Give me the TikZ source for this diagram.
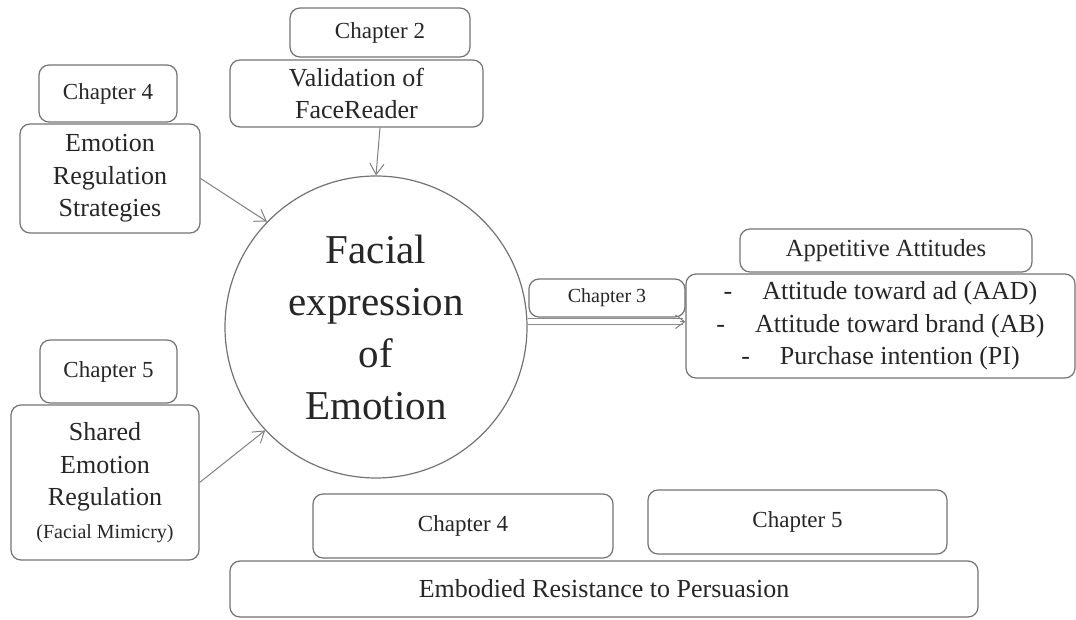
\documentclass[tikz,border=0pt]{standalone}
\usepackage{fontspec}
\setmainfont{Liberation Serif}
\usetikzlibrary{arrows.meta}

\begin{document}
\begin{tikzpicture}[
  x=0.5pt, y=-0.5pt,
  box/.style = {draw=black!55, line width=0.6pt, rounded corners=5pt, align=center,
                inner sep=2pt, text=black!85, font=\fontsize{13}{16.3}\selectfont},
  chap/.style = {box, font=\fontsize{11.5}{14}\selectfont},
  arrow/.style = {draw=black!50, line width=0.5pt, -{Straight Barb[length=1.9mm, width=2.5mm]}},
  twin/.style = {draw=black!45, line width=0.5pt, double, double distance=2.4pt}
]
\useasboundingbox (0,0) rectangle (1076,620);

% Central circle
\node[circle, draw=black!55, line width=0.6pt, minimum size=151pt, inner sep=0pt,
      align=center, text=black!85, font=\fontsize{20.5}{26}\selectfont]
  (face) at (376,327) {Facial\\expression\\of\\Emotion};

% Top: FaceReader validation
\node[chap, minimum width=90pt, minimum height=24.5pt] (chtwo) at (380,32.5) {Chapter 2};
\node[box, minimum width=126.5pt, minimum height=33.5pt] (valid) at (356.5,93.5)
  {Validation of\\FaceReader};

% Left top: regulation strategies
\node[chap, minimum width=69pt, minimum height=28.5pt] (chfour) at (108,93.5) {Chapter 4};
\node[box, minimum width=90pt, minimum height=54.5pt] (regul) at (110,178.5)
  {Emotion\\Regulation\\Strategies};

% Left bottom: shared regulation
\node[chap, minimum width=68.5pt, minimum height=31.5pt] (chfive) at (108.5,371.5) {Chapter 5};
\node[box, minimum width=94pt, minimum height=77.5pt] (shared) at (105,482.5)
  {Shared\\Emotion\\Regulation\\{\fontsize{10}{12}\selectfont (Facial Mimicry)}};

% Right: appetitive attitudes
\node[chap, font=\fontsize{10}{12}\selectfont, minimum width=78pt, minimum height=19pt]
  (chthree) at (607,298) {Chapter 3};
\node[box, font=\fontsize{12.3}{15}\selectfont, minimum width=146pt, minimum height=21.5pt]
  (appet) at (886,250.5) {Appetitive Attitudes};
\node[box, minimum width=194.5pt, minimum height=52pt] (attit) at (880.5,326)
  {-\hspace{15pt}Attitude toward ad (AAD)\\
   -\hspace{15pt}Attitude toward brand (AB)\\
   -\hspace{15pt}Purchase intention (PI)};

% Bottom: embodied resistance
\node[chap, minimum width=150pt, minimum height=32pt] (chfourb) at (463,526) {Chapter 4};
\node[chap, minimum width=149.5pt, minimum height=32pt] (chfiveb) at (797.5,522) {Chapter 5};
\node[box, minimum width=374pt, minimum height=28pt] (embod) at (604,589)
  {Embodied Resistance to Persuasion};

% Connectors
\draw[arrow] ([xshift=2pt]valid.south -| face.north) -- (face.north);
\draw[arrow] (regul.east) -- (face.136);
\draw[arrow] (shared.east) -- (face.223);
\draw[twin, shorten >=1pt] (face.2) -- (face.2 -| attit.west);
\draw[arrow, -{Straight Barb[length=1.6mm, width=2.4mm]}, shorten <=76pt]
  (face.2) -- (face.2 -| attit.west);

\end{tikzpicture}
\end{document}
